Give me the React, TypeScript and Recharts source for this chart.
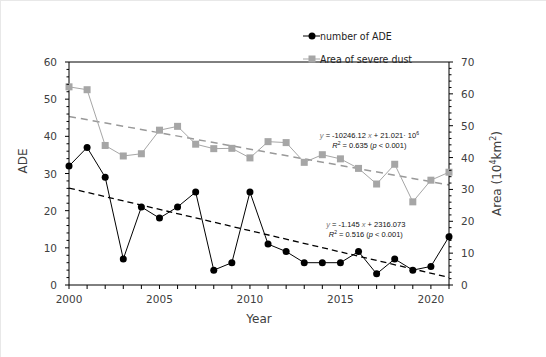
import { ComposedChart, Line, XAxis, YAxis, ReferenceLine, ReferenceDot, Legend, Label } from "recharts"

const years = [2000, 2001, 2002, 2003, 2004, 2005, 2006, 2007, 2008, 2009, 2010, 2011, 2012, 2013, 2014, 2015, 2016, 2017, 2018, 2019, 2020, 2021]
const adeCounts = [32, 37, 29, 7, 21, 18, 21, 25, 4, 6, 25, 11, 9, 6, 6, 6, 9, 3, 7, 4, 5, 13]
const dustArea = [62.2, 61.3, 43.8, 40.5, 41.2, 48.6, 49.8, 44.2, 42.8, 42.9, 39.9, 45.0, 44.7, 38.5, 40.9, 39.6, 36.6, 31.7, 37.9, 26.1, 32.9, 35.4]

// regression lines (from the printed equations), only the end points
const trendYears = [2000, 2021]
const adeTrend = [26.07, 2.03]
const areaTrend = [52.9, 31.4]

const xTicks = years
const leftTicks = [0, 2, 4, 6, 8, 10, 12, 14, 16, 18, 20, 22, 24, 26, 28, 30, 32, 34, 36, 38, 40, 42, 44, 46, 48, 50, 52, 54, 56, 58, 60]
const rightTicks = [0, 2, 4, 6, 8, 10, 12, 14, 16, 18, 20, 22, 24, 26, 28, 30, 32, 34, 36, 38, 40, 42, 44, 46, 48, 50, 52, 54, 56, 58, 60, 62, 64, 66, 68, 70]

const data = years.map((year, i) => {
    const t = trendYears.indexOf(year)
    return {
        year,
        ade: adeCounts[i],
        area: dustArea[i],
        adeTrend: t >= 0 ? adeTrend[t] : undefined,
        areaTrend: t >= 0 ? areaTrend[t] : undefined,
    }
})

const FONT = "'DejaVu Sans', sans-serif"
const TICK_COLOR = "#404040"
const GRAY = "#a6a6a6"

const LeftTick = ({ x, y, payload }: any) => {
    const major = payload.value % 10 === 0
    return (
        <g>
            <line x1={x - (major ? 4 : 2.5)} x2={x} y1={y} y2={y} stroke="#000" />
            {major && (
                <text x={x - 12} y={y} dy={4} textAnchor="end" fontSize={10.5} fill={TICK_COLOR} fontFamily={FONT}>
                    {payload.value}
                </text>
            )}
        </g>
    )
}

const RightTick = ({ x, y, payload }: any) => {
    const major = payload.value % 10 === 0
    return (
        <g>
            <line x1={x} x2={x + (major ? 4 : 2.5)} y1={y} y2={y} stroke="#000" />
            {major && (
                <text x={x + 12} y={y} dy={4} textAnchor="start" fontSize={10.5} fill={TICK_COLOR} fontFamily={FONT}>
                    {payload.value}
                </text>
            )}
        </g>
    )
}

const BottomTick = ({ x, y, payload }: any) => {
    const major = payload.value % 5 === 0
    return (
        <g>
            <line x1={x} x2={x} y1={y} y2={y + 4} stroke="#000" />
            {major && (
                <text x={x} y={y + 18} textAnchor="middle" fontSize={10.5} fill={TICK_COLOR} fontFamily={FONT}>
                    {payload.value}
                </text>
            )}
        </g>
    )
}

const SquareDot = ({ cx, cy }: any) => {
    if (cx == null || cy == null) return null
    return <rect x={cx - 3.5} y={cy - 3.5} width={7} height={7} fill={GRAY} />
}

const LegendContent = () => (
    <div style={{ fontFamily: "'DejaVu Sans Condensed', sans-serif", fontSize: 10.5, color: "#222" }}>
        <div style={{ display: "flex", alignItems: "center", height: 23 }}>
            <svg width={17} height={10}>
                <line x1={0} x2={17} y1={5} y2={5} stroke="#000" />
                <circle cx={9} cy={5} r={3.5} fill="#000" />
            </svg>
            <span>number of ADE</span>
        </div>
        <div style={{ display: "flex", alignItems: "center", height: 23 }}>
            <svg width={17} height={10}>
                <line x1={0} x2={17} y1={5} y2={5} stroke={GRAY} />
                <rect x={5.5} y={1.5} width={7} height={7} fill={GRAY} />
            </svg>
            <span>Area of severe dust</span>
        </div>
    </div>
)

const Equation = ({ viewBox, lines }: any) => {
    const cx = viewBox.cx ?? viewBox.x
    const cy = viewBox.cy ?? viewBox.y
    const style = { fontFamily: "'Liberation Sans', Arial, sans-serif", fontSize: 7.5, fill: "#111" }
    const [a, b] = lines
    return (
        <text textAnchor="middle" {...style}>
            <tspan x={cx} y={cy - 2}>
                <tspan fontStyle="italic" fill="#777">y</tspan>
                {` = ${a[0]} `}
                <tspan fontStyle="italic" fill="#777">x</tspan>
                {` + ${a[1]}`}
                {a[2] && <tspan dy={-3} fontSize={5}>{a[2]}</tspan>}
            </tspan>
            <tspan x={cx} y={cy + 8}>
                <tspan fontStyle="italic">R</tspan>
                <tspan dy={-3} fontSize={5}>2</tspan>
                <tspan dy={3}>{` = ${b} (`}</tspan>
                <tspan fontStyle="italic">p</tspan>
                {" < 0.001)"}
            </tspan>
        </text>
    )
}

const AreaLabel = ({ viewBox }: any) => {
    const cx = viewBox.x + 52
    const cy = viewBox.y + viewBox.height / 2
    return (
        <text transform={`rotate(-90, ${cx}, ${cy})`} x={cx} y={cy} textAnchor="middle" fontSize={12} fill={TICK_COLOR} fontFamily={FONT}>
            Area (10<tspan dy={-5} fontSize={8}>4</tspan><tspan dy={5}>km</tspan><tspan dy={-5} fontSize={8}>2</tspan><tspan dy={5}>)</tspan>
        </text>
    )
}

const App = () => {
    return (
        <div style={{ position: "absolute", left: 0, top: 0, width: 546, height: 357, background: "#fff", borderTop: "1px solid #e8e8e8", borderLeft: "1px solid #e8e8e8", boxSizing: "border-box" }}>
            <ComposedChart width={545} height={356} data={data} margin={{ top: 15, right: 0, left: 0, bottom: 32 }}>
                <XAxis
                    dataKey="year"
                    type="number"
                    domain={[2000, 2021]}
                    ticks={xTicks}
                    interval={0}
                    tick={<BottomTick />}
                    tickLine={false}
                    tickSize={0}
                    tickMargin={0}
                    height={40}
                    stroke="#000"
                >
                    <Label value="Year" position="insideBottom" offset={2} fontSize={12} fill={TICK_COLOR} fontFamily={FONT} />
                </XAxis>
                <YAxis
                    yAxisId="left"
                    domain={[0, 60]}
                    ticks={leftTicks}
                    interval={0}
                    tick={<LeftTick />}
                    tickLine={false}
                    tickSize={0}
                    tickMargin={0}
                    width={68}
                    stroke="#000"
                >
                    <Label value="ADE" angle={-90} position="insideLeft" offset={22} fontSize={12} fill={TICK_COLOR} fontFamily={FONT} />
                </YAxis>
                <YAxis
                    yAxisId="right"
                    orientation="right"
                    domain={[0, 70]}
                    ticks={rightTicks}
                    interval={0}
                    tick={<RightTick />}
                    tickLine={false}
                    tickSize={0}
                    tickMargin={0}
                    width={97}
                    stroke="#000"
                >
                    <Label content={<AreaLabel />} />
                </YAxis>
                <ReferenceLine yAxisId="left" y={60} stroke="#000" />
                <Legend content={<LegendContent />} layout="vertical" verticalAlign="top" wrapperStyle={{ left: 302, top: 23, width: 140 }} />
                <Line
                    yAxisId="right"
                    dataKey="areaTrend"
                    stroke="#999"
                    strokeWidth={1.5}
                    strokeDasharray="7 5"
                    dot={false}
                    connectNulls
                    isAnimationActive={false}
                    legendType="none"
                />
                <Line
                    yAxisId="left"
                    dataKey="adeTrend"
                    stroke="#000"
                    strokeWidth={1.3}
                    strokeDasharray="6 4"
                    dot={false}
                    connectNulls
                    isAnimationActive={false}
                    legendType="none"
                />
                <Line
                    yAxisId="right"
                    dataKey="area"
                    stroke={GRAY}
                    strokeWidth={1}
                    dot={<SquareDot />}
                    isAnimationActive={false}
                />
                <Line
                    yAxisId="left"
                    dataKey="ade"
                    stroke="#000"
                    strokeWidth={1}
                    dot={{ r: 3.5, fill: "#000", stroke: "#000", strokeWidth: 0 }}
                    isAnimationActive={false}
                />
                <ReferenceDot
                    yAxisId="left"
                    x={2016.6}
                    y={39}
                    r={0}
                    label={<Equation lines={[["-10246.12", "21.021· 10", "6"], "0.635"]} />}
                />
                <ReferenceDot
                    yAxisId="left"
                    x={2016.4}
                    y={15.1}
                    r={0}
                    label={<Equation lines={[["-1.145", "2316.073", ""], "0.516"]} />}
                />
            </ComposedChart>
        </div>
    )
}

export default App
